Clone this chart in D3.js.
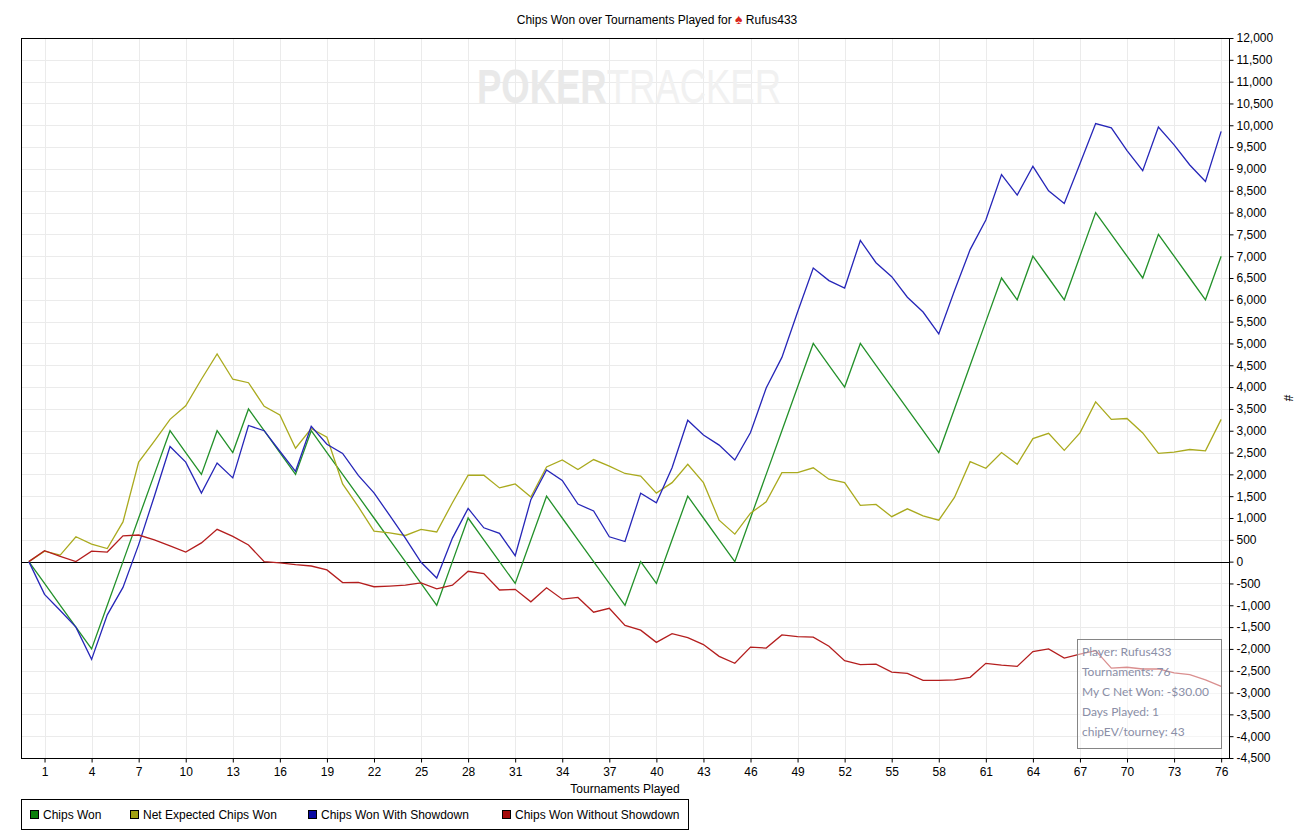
<!DOCTYPE html>
<html>
<head>
<meta charset="utf-8">
<script src="https://cdn.jsdelivr.net/npm/d3@7"></script>
<style>
body { margin: 0; background: #fff; }
svg text { font-family: "Liberation Sans", Arial, sans-serif; }
</style>
</head>
<body>
<svg id="chart"></svg>
<script>
// tournaments 0..76
var tournaments = d3.range(0, 77);

var chipsWon = [0, -500, -1000, -1500, -2000, -1000, 0, 1000, 2000, 3000,
    2500, 2000, 3000, 2500, 3500, 3000, 2500, 2000, 3000, 2500,
    2000, 1500, 1000, 500, 0, -500, -1000, 0, 1000, 500,
    0, -500, 500, 1500, 1000, 500, 0, -500, -1000, 0,
    -500, 500, 1500, 1000, 500, 0, 1000, 2000, 3000, 4000,
    5000, 4500, 4000, 5000, 4500, 4000, 3500, 3000, 2500, 3500,
    4500, 5500, 6500, 6000, 7000, 6500, 6000, 7000, 8000, 7500,
    7000, 6500, 7500, 7000, 6500, 6000, 7000];

var netExpected = [0, 240, 150, 570, 400, 300, 910, 2280, 2760, 3260,
    3570, 4180, 4760, 4180, 4100, 3560, 3360, 2600, 3050, 2850,
    1780, 1260, 700, 660, 600, 740, 680, 1350, 1980, 1980,
    1690, 1780, 1480, 2170, 2330, 2110, 2340, 2190, 2020, 1960,
    1570, 1810, 2230, 1810, 950, 630, 1110, 1370, 2040, 2040,
    2150, 1890, 1810, 1290, 1310, 1030, 1210, 1050, 950, 1470,
    2290, 2140, 2500, 2230, 2820, 2940, 2550, 2950, 3660, 3260,
    3280, 2950, 2480, 2510, 2570, 2540, 3260];

var withShowdown = [0, -750, -1120, -1500, -2240, -1220, -590, 390, 1500, 2640,
    2280, 1570, 2260, 1920, 3120, 3000, 2530, 2070, 3100, 2690,
    2480, 1975, 1575, 1060, 540, -15, -375, 540, 1220, 775,
    650, 135, 1420, 2100, 1860, 1320, 1160, 570, 460, 1570,
    1350, 2150, 3240, 2900, 2670, 2330, 2960, 3980, 4680, 5720,
    6730, 6440, 6270, 7360, 6850, 6530, 6060, 5720, 5220, 6210,
    7150, 7830, 8870, 8400, 9060, 8500, 8210, 9120, 10040, 9940,
    9420, 8960, 9960, 9550, 9090, 8710, 9860];

var withoutShowdown = [0, 250, 120, 0, 240, 220, 590, 610, 500, 360,
    220, 430, 740, 580, 380, 0, -30, -70, -100, -190,
    -480, -475, -575, -560, -540, -485, -625, -540, -220, -275,
    -650, -635, -920, -600, -860, -820, -1160, -1070, -1460, -1570,
    -1850, -1650, -1740, -1900, -2170, -2330, -1960, -1980, -1680, -1720,
    -1730, -1940, -2270, -2360, -2350, -2530, -2560, -2720, -2720, -2710,
    -2650, -2330, -2370, -2400, -2060, -2000, -2210, -2120, -2040, -2440,
    -2420, -2460, -2460, -2550, -2590, -2710, -2860];

var seriesNames = ["Chips Won", "Net Expected Chips Won", "Chips Won With Showdown", "Chips Won Without Showdown"];
var lineColors = ["#23912a", "#aaaa1e", "#2626b8", "#b41e1e"];
var swatchColors = ["#0b7f0b", "#a3a313", "#0a0aa3", "#a30a0a"];

var xTicks = d3.range(1, 77, 3);
var yTicks = d3.range(-4500, 12001, 500);

var infoLines = ["Player: Rufus433", "Tournaments: 76", "My C Net Won: -$30.00",
    "Days Played: 1", "chipEV/tourney: 43"];

var width = 1314,
    height = 840,
    margin = {top: 38, left: 21, right: 85, bottom: 82};

var svg = d3.select("#chart")
    .attr("width", width)
    .attr("height", height);

var plotW = width - margin.left - margin.right,
    plotH = height - margin.top - margin.bottom;

var xScale = d3.scaleLinear()
    .domain([-0.5, 76.5])
    .range([margin.left, margin.left + plotW]);

var yScale = d3.scaleLinear()
    .domain([-4500, 12000])
    .range([margin.top + plotH, margin.top]);

// grid
var grid = svg.append("g").attr("id", "grid");
grid.selectAll("line.h")
    .data(yTicks)
    .enter().append("line")
    .attr("class", "h")
    .attr("x1", margin.left).attr("x2", margin.left + plotW)
    .attr("y1", function(d){ return Math.round(yScale(d)) + 0.5; })
    .attr("y2", function(d){ return Math.round(yScale(d)) + 0.5; })
    .style("stroke", "#ebebeb");
grid.selectAll("line.v")
    .data(xTicks)
    .enter().append("line")
    .attr("class", "v")
    .attr("y1", margin.top).attr("y2", margin.top + plotH)
    .attr("x1", function(d){ return Math.round(xScale(d)) + 0.5; })
    .attr("x2", function(d){ return Math.round(xScale(d)) + 0.5; })
    .style("stroke", "#ebebeb");

// watermark (one text, squeezed horizontally)
var wm = svg.append("g")
    .attr("id", "watermark")
    .attr("transform", "translate(477,103) scale(0.76,1)");
var wmText = wm.append("text")
    .attr("x", 0).attr("y", 0)
    .style("font-size", "48px");
wmText.append("tspan")
    .style("font-weight", "bold")
    .style("fill", "#e9e9e9")
    .text("POKER");
wmText.append("tspan")
    .style("fill", "#f1f1f1")
    .text("TRACKER");

// zero line
svg.append("line")
    .attr("x1", margin.left).attr("x2", margin.left + plotW)
    .attr("y1", Math.round(yScale(0)) + 0.5).attr("y2", Math.round(yScale(0)) + 0.5)
    .style("stroke", "black");

// series
var allSeries = [chipsWon, netExpected, withShowdown, withoutShowdown];
var line = d3.line()
    .x(function(d, i){ return xScale(tournaments[i]); })
    .y(function(d){ return yScale(d); });

svg.append("g").attr("id", "lines")
    .selectAll("path")
    .data(allSeries)
    .enter().append("path")
    .attr("d", line)
    .style("fill", "none")
    .style("stroke-width", "1.3px")
    .style("stroke", function(d, i){ return lineColors[i]; });

// frame
svg.append("rect")
    .attr("x", margin.left + 0.5).attr("y", margin.top + 0.5)
    .attr("width", plotW).attr("height", plotH)
    .style("fill", "none").style("stroke", "black");

// axes
var xAxis = d3.axisBottom(xScale)
    .tickValues(xTicks)
    .tickSize(4)
    .tickSizeOuter(0);
var xAxisG = svg.append("g")
    .attr("transform", "translate(0," + (margin.top + plotH + 0.5) + ")")
    .call(xAxis);
xAxisG.select(".domain").remove();
xAxisG.selectAll("text")
    .style("font-family", "Liberation Sans, Arial, sans-serif")
    .style("font-size", "12px")
    .attr("dy", "0.9em");

var yAxis = d3.axisRight(yScale)
    .tickValues(yTicks)
    .tickSize(4)
    .tickFormat(d3.format(","));
var yAxisG = svg.append("g")
    .attr("transform", "translate(" + (margin.left + plotW + 0.5) + ",0)")
    .call(yAxis);
yAxisG.select(".domain").remove();
yAxisG.selectAll("text")
    .style("font-family", "Liberation Sans, Arial, sans-serif")
    .style("font-size", "12px")
    .attr("x", 7)
    .text(function(d){ return d3.format(",")(d).replace("−", "-"); });

svg.append("text")
    .attr("x", 625).attr("y", 793)
    .attr("text-anchor", "middle")
    .style("font-size", "12px")
    .text("Tournaments Played");

svg.append("text")
    .attr("transform", "translate(1284,398) rotate(90)")
    .attr("text-anchor", "middle")
    .style("font-size", "12px")
    .text("#");

// title
var title = svg.append("text")
    .attr("x", 657).attr("y", 24)
    .attr("text-anchor", "middle")
    .style("font-size", "12px");
title.append("tspan").text("Chips Won over Tournaments Played for ");
title.append("tspan").style("fill", "#d8261c").style("font-size", "14px").text("\u2660");
title.append("tspan").text(" Rufus433");

// info box
var info = svg.append("g").attr("id", "info");
info.append("rect")
    .attr("x", 1077.5).attr("y", 639.5)
    .attr("width", 144).attr("height", 109)
    .style("fill", "white").style("fill-opacity", 0.5)
    .style("stroke", "#858585");
info.selectAll("text")
    .data(infoLines)
    .enter().append("text")
    .attr("x", 1082)
    .attr("y", function(d, i){ return 656 + i * 20; })
    .style("font-family", "Lato, 'Open Sans', sans-serif")
    .style("font-size", "12px")
    .style("fill", "#8a8ea6")
    .text(function(d){ return d; });

// legend
var legendX = [30, 130, 308, 502];
var legend = svg.append("g").attr("id", "legend");
legend.append("rect")
    .attr("x", 21.5).attr("y", 799.5)
    .attr("width", 667).attr("height", 30)
    .style("fill", "white").style("stroke", "black");
var items = legend.selectAll("g.item")
    .data(seriesNames)
    .enter().append("g")
    .attr("class", "item")
    .attr("transform", function(d, i){ return "translate(" + legendX[i] + ",0)"; });
items.append("rect")
    .attr("x", 0.5).attr("y", 810.5)
    .attr("width", 8).attr("height", 8)
    .style("fill", function(d, i){ return swatchColors[i]; })
    .style("stroke", "black");
items.append("text")
    .attr("x", 13).attr("y", 819)
    .style("font-size", "12px")
    .text(function(d){ return d; });
</script>
</body>
</html>
